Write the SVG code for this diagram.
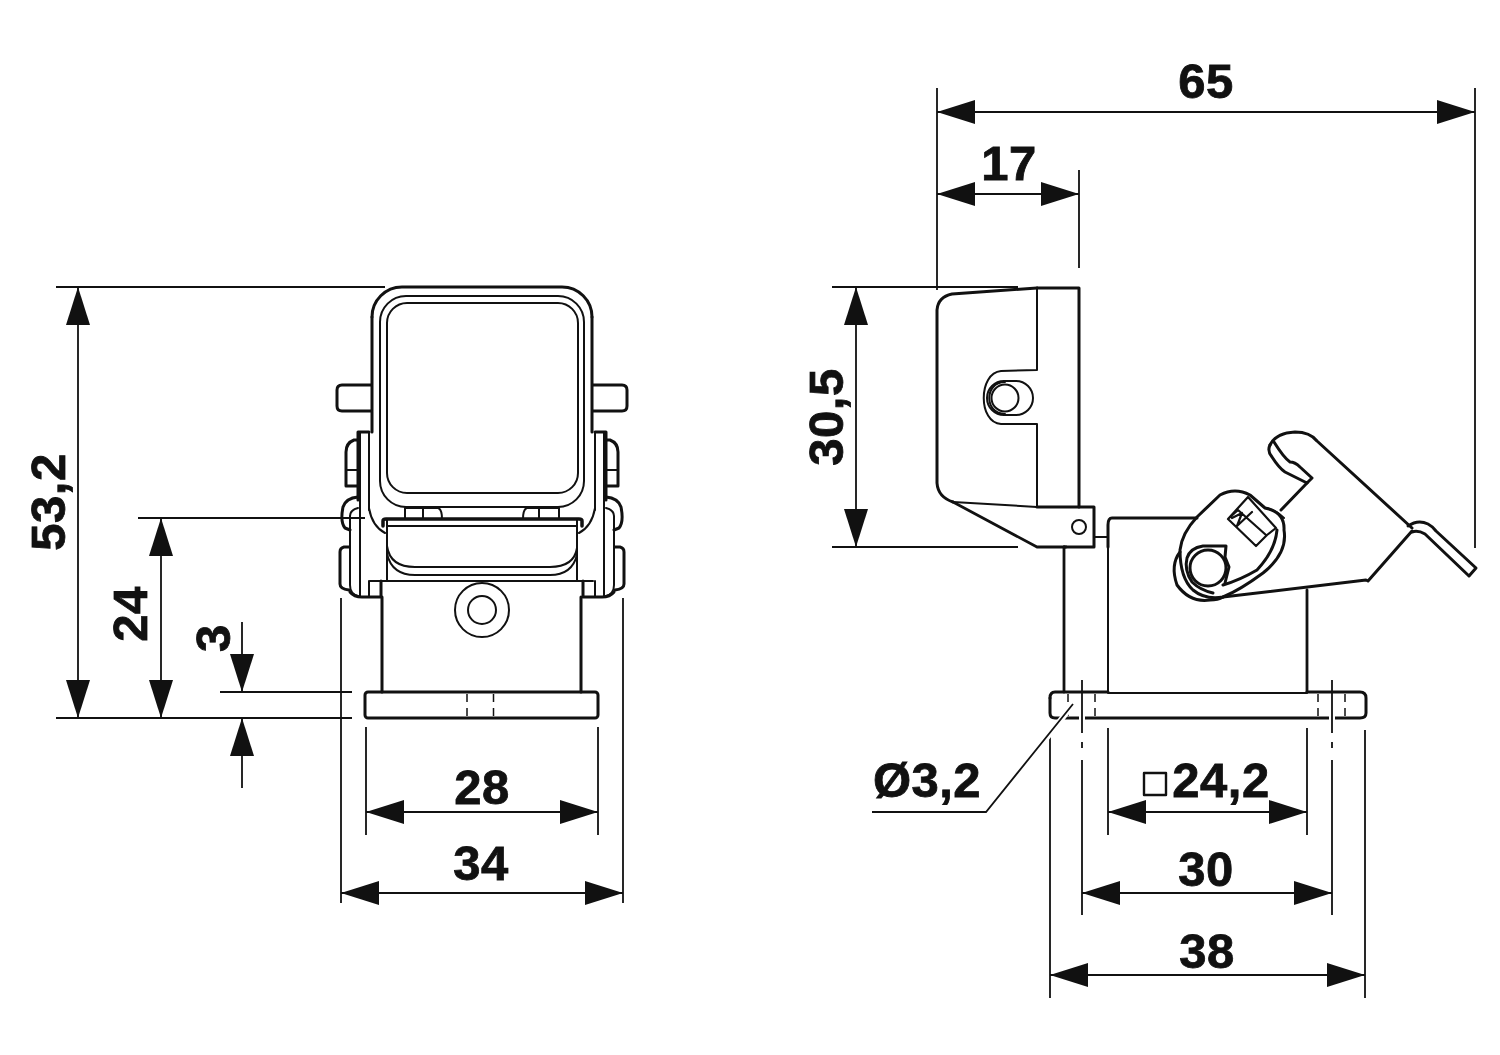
<svg xmlns="http://www.w3.org/2000/svg" xmlns:xlink="http://www.w3.org/1999/xlink" width="1500" height="1055" viewBox="0 0 1500 1055">
<style>
.k{fill:none;stroke:#111;stroke-width:3;stroke-linejoin:round;stroke-linecap:round}
.t{fill:none;stroke:#111;stroke-width:2;stroke-linejoin:round;stroke-linecap:round}
.f{fill:none;stroke:#111;stroke-width:1.5}
.d{fill:none;stroke:#111;stroke-width:1.8}
.h{fill:none;stroke:#fff;stroke-width:6}
.a{fill:#111}
.l{font-family:"Liberation Sans",Arial,sans-serif;font-weight:700;font-size:49px;fill:#111;stroke:#111;stroke-width:.8;letter-spacing:.5px;text-anchor:middle}
</style>
<defs>
<polygon id="ah" class="a" points="0,0 38,-12 38,12"/>
<g id="fs">
<path class="k" d="M372 317V432M372 385H342Q337 385 337 390V406Q337 411 342 411H372"/>
<path class="k" d="M369 432H358V500M358 440H354Q346 443 346 452V486H358"/>
<path class="t" d="M346 470H358M369 432V510M360 432V585"/>
<path class="k" d="M358 497Q346 498 343 507Q340 522 345 528L350 530"/>
<path class="t" d="M358 508Q350 510 350 516V585Q350 594 358 596"/>
<path class="k" d="M349 547H344Q340 548 340 552V584Q340 589 349 590"/>
<path class="t" d="M369 508Q372 526 385 533"/>
<path class="k" d="M350 592Q354 597 362 597H381V581"/>
<path class="t" d="M369 581V597M360 582V597"/>
</g>
</defs>

<g id="front-view">
<path class="k" d="M372 317A30 30 0 0 1 402 287H562A30 30 0 0 1 592 317"/>
<rect class="t" x="380" y="296" width="204" height="211" rx="26"/>
<rect class="t" x="387" y="303" width="191" height="190" rx="20"/>
<use xlink:href="#fs"/>
<use xlink:href="#fs" transform="matrix(-1 0 0 1 964 0)"/>
<path class="t" d="M405 519V508H423V519M423 508H438Q442 509 442 519M523 519Q523 509 527 508H539V519M539 508H559V519"/>
<path class="k" d="M383 526V521Q383 519 386 519H579Q582 519 582 521V526" style="stroke-width:3.5"/>
<path class="t" d="M387 526H577M387 519V581M577 519V581"/>
<path class="t" d="M387 546Q390 567 415 567H550Q574 567 577 548M387 554Q392 575 415 575H550Q572 575 577 555"/>
<path class="t" d="M370 581H593"/>
<path class="k" d="M382 597V692M581 597V692"/>
<circle class="t" cx="482" cy="610" r="27"/>
<circle class="t" cx="482" cy="610" r="14"/>
<rect class="k" x="365" y="692" width="233" height="26" rx="3"/>
<path class="t" d="M382 692H581" style="stroke-width:1.8"/>
<path class="f" d="M467 694V702M467 708V716M493.500 694V702M493.500 708V716"/>
</g>

<g id="side-view-cover">
<path class="k" d="M1037 288L952 294Q938 297 937 310V483Q938 497 953 502"/>
<path class="k" d="M1037 288H1079V507"/>
<path class="t" d="M953 502L1037 507M1037 288V370L1001 371C978 373 978 423 1001 424L1037 424V507"/>
<path class="k" d="M953 502L1037 547H1066" style="stroke-width:2.800"/>
<path class="k" d="M1037 507H1094V547H1064"/>
<circle class="t" cx="1079" cy="527" r="7"/>
<rect class="t" x="987" y="381" width="46" height="34" rx="17"/>
<circle class="t" cx="1005" cy="398" r="13.500"/>
<path class="t" d="M1005 382C984 382 984 414 1005 414"/>
<path class="t" d="M1094 537H1108"/>
</g>

<g id="side-view-body">
<path class="k" d="M1108 547V525Q1108 518 1112 518H1197"/>
<path class="t" d="M1108 547V692"/>
<path class="k" d="M1064 547V692M1307 590V692" style="stroke-width:2.800"/>
<path class="k" d="M1050 698Q1050 692 1055 692H1108"/>
<path class="k" d="M1307 692H1360Q1366 692 1366 698V713Q1366 718 1360 718H1055Q1050 718 1050 713V698"/>
<path class="t" d="M1108 693H1307"/>
<path class="f" d="M1068 694V702M1068 708V716M1095 694V702M1095 708V716M1318 694V702M1318 708V716M1345 694V702M1345 708V716"/>
</g>

<g id="side-view-latch">
<path class="k" d="M1270 445Q1276 433 1295 432Q1310 432 1317 441L1412 528"/>
<path class="k" d="M1270 445Q1267 451 1272 457Q1279 468 1285 472Q1293 476 1307 483L1312 478L1300 467Q1295 462 1290 462Q1284 458 1274 442"/>
<path class="k" d="M1307 483L1281 510"/>
<path class="k" d="M1412 531L1368 581L1366 580L1223 597"/>
<path class="k" d="M1408 526Q1418 519 1428 524Q1432 526 1436 531L1476 568L1469 576L1425 534Q1418 530 1412 532"/>
<path class="k" d="M1197 517L1220 495Q1235 487 1250 495L1265 508Q1285 512 1284 530Q1288 553 1263 573Q1240 590 1223 597Q1205 600 1193 590Q1180 578 1180 550Q1182 533 1197 517"/>
<path class="t" d="M1265 508Q1276 510 1284 518"/>
<path class="k" d="M1277 530Q1275 551 1257 570Q1240 580 1223 585"/>
<path class="k" d="M1180 552Q1170 565 1177 585Q1190 603 1210 600Q1218 600 1223 597"/>
<circle class="k" cx="1208" cy="568" r="18"/>
<path class="k" d="M1226 546H1203Q1190 548 1187 558Q1184 570 1192 582Q1200 590 1213 593M1226 546L1225 557L1229 567L1225 583"/>
<path class="k" d="M1248 497L1276 528L1267 535L1256 546L1228 519ZM1228 519L1238 510M1238 510L1266 535M1237 526L1252 512M1232 518L1242 513L1237 526" style="stroke-width:2.200"/>
</g>

<g id="connectors">
<path class="d" d="M56 287H385M56 718H352M220 692H352M138 518H365M78 287V718M161 518V718M242 622V692M242 718V788M341 598V903M623 598V903M366 727V835M598 727V835M366 812H598M341 893H623"/>
<path class="d" d="M937 88V290M1475 88V548M937 112H1475M1079 170V268M937 194H1079M832 287H1018M832 547H1018M856 287V547"/>
<path class="d" d="M1108 728V835M1307 728V835M1108 812H1307M1082 893H1332M1050 975H1365M1050 730V998M1365 730V998"/>
<path class="h" d="M1082 702V736M1332 702V736M1045 740L1071 707"/>
<path class="d" d="M1082 680V733M1082 742V748M1082 760V915M1332 680V733M1332 742V748M1332 760V915"/>
<path class="d" d="M872 812H986L1073 704"/>
<rect class="k" x="1144" y="773" width="22" height="22" style="stroke-width:2.400;stroke-linecap:square"/>
<use xlink:href="#ah" transform="translate(78 287) rotate(90)"/>
<use xlink:href="#ah" transform="translate(78 718) rotate(-90)"/>
<use xlink:href="#ah" transform="translate(161 518) rotate(90)"/>
<use xlink:href="#ah" transform="translate(161 718) rotate(-90)"/>
<use xlink:href="#ah" transform="translate(242 692) rotate(-90)"/>
<use xlink:href="#ah" transform="translate(242 718) rotate(90)"/>
<use xlink:href="#ah" transform="translate(366 812)"/>
<use xlink:href="#ah" transform="translate(598 812) rotate(180)"/>
<use xlink:href="#ah" transform="translate(341 893)"/>
<use xlink:href="#ah" transform="translate(623 893) rotate(180)"/>
<use xlink:href="#ah" transform="translate(937 112)"/>
<use xlink:href="#ah" transform="translate(1475 112) rotate(180)"/>
<use xlink:href="#ah" transform="translate(937 194)"/>
<use xlink:href="#ah" transform="translate(1079 194) rotate(180)"/>
<use xlink:href="#ah" transform="translate(856 287) rotate(90)"/>
<use xlink:href="#ah" transform="translate(856 547) rotate(-90)"/>
<use xlink:href="#ah" transform="translate(1108 812)"/>
<use xlink:href="#ah" transform="translate(1307 812) rotate(180)"/>
<use xlink:href="#ah" transform="translate(1082 893)"/>
<use xlink:href="#ah" transform="translate(1332 893) rotate(180)"/>
<use xlink:href="#ah" transform="translate(1050 975)"/>
<use xlink:href="#ah" transform="translate(1365 975) rotate(180)"/>
</g>

<g id="labels">
<text class="l" x="1206" y="98">65</text>
<text class="l" x="1009" y="180">17</text>
<text class="l" transform="translate(843 417) rotate(-90)">30,5</text>
<text class="l" transform="translate(65 502) rotate(-90)">53,2</text>
<text class="l" transform="translate(147 614) rotate(-90)">24</text>
<text class="l" transform="translate(230 638) rotate(-90)">3</text>
<text class="l" x="482" y="804">28</text>
<text class="l" x="481" y="880">34</text>
<text class="l" x="927" y="797">Ø3,2</text>
<text class="l" x="1221" y="797">24,2</text>
<text class="l" x="1206" y="886">30</text>
<text class="l" x="1207" y="968">38</text>
</g>
</svg>
